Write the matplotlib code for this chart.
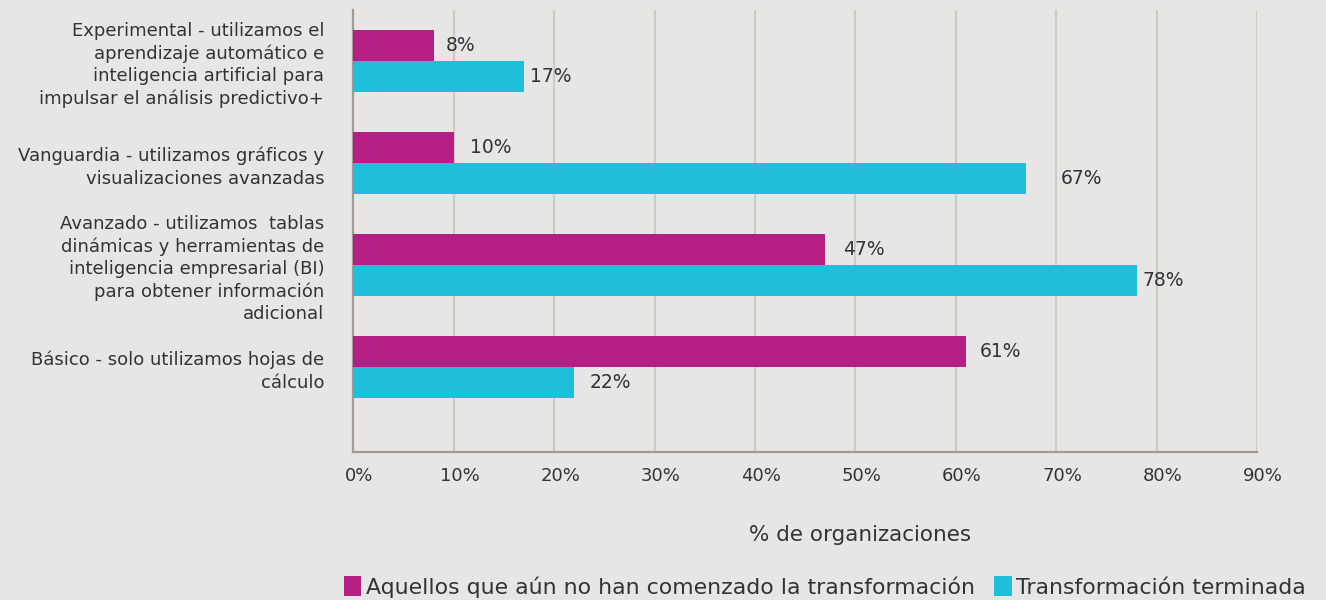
import matplotlib.pyplot as plt
import matplotlib.transforms as mtransforms
import numpy as np
from matplotlib.patches import Patch

plt.rcParams['font.family'] = ['DejaVu Sans']

# datos
categorias = [
    'Experimental - utilizamos el\naprendizaje automático e\ninteligencia artificial para\nimpulsar el análisis predictivo+',
    'Vanguardia - utilizamos gráficos y\nvisualizaciones avanzadas',
    'Avanzado - utilizamos  tablas\ndinámicas y herramientas de\ninteligencia empresarial (BI)\npara obtener información\nadicional',
    'Básico - solo utilizamos hojas de\ncálculo',
]
no_comenzado = [8, 10, 47, 61]
terminada = [17, 67, 78, 22]
serie_nombres = ['Aquellos que aún no han comenzado la transformación',
                 'Transformación terminada']
ticks_x = [0, 10, 20, 30, 40, 50, 60, 70, 80, 90]

# estilo
fondo = '#e8e6e4'
magenta = '#b51f84'
cian = '#21bedc'
texto = '#333333'

fig = plt.figure(figsize=(13.26, 6), dpi=100, facecolor=fondo)
ax = fig.add_axes([0.2665, 0.247, 0.6815, 0.736])
ax.set_facecolor(fondo)

y = np.arange(len(categorias))
alto = 0.305
ax.barh(y - alto / 2, no_comenzado, height=alto, color=magenta, zorder=3)
ax.barh(y + alto / 2, terminada, height=alto, color=cian, zorder=3)

# etiquetas de valor (desplazamientos en puntos, como en el original)
desp_nc = [9, 12, 13, 10]
desp_t = [4, 25, 4, 11]
for i in range(len(categorias)):
    ax.annotate(f'{no_comenzado[i]}%', (no_comenzado[i], y[i] - alto / 2),
                xytext=(desp_nc[i], 0), textcoords='offset points',
                va='center', ha='left', fontsize=13.5, color=texto)
    ax.annotate(f'{terminada[i]}%', (terminada[i], y[i] + alto / 2),
                xytext=(desp_t[i], 0), textcoords='offset points',
                va='center', ha='left', fontsize=13.5, color=texto)

ax.set_xlim(0, 90)
ax.set_ylim(3.83, -0.5)
ax.set_xticks(ticks_x)
ax.set_xticklabels([f'{t}%' for t in ticks_x], fontsize=13, color=texto)
ax.set_yticks(y)
ax.set_yticklabels(categorias, fontsize=13, color=texto, linespacing=1.3)
ax.tick_params(axis='both', length=0)
ax.tick_params(axis='x', pad=11)
ax.tick_params(axis='y', pad=21)
for lbl in ax.get_yticklabels():
    lbl.set_multialignment('right')
desplazar = mtransforms.ScaledTranslation(6 / 100, 0, fig.dpi_scale_trans)
for lbl in ax.get_xticklabels():
    lbl.set_transform(lbl.get_transform() + desplazar)

ax.grid(axis='x', color='#cdc9c4', linewidth=1.5, zorder=0)
for s in ['top', 'right']:
    ax.spines[s].set_visible(False)
for s in ['left', 'bottom']:
    ax.spines[s].set_color('#a09b96')
    ax.spines[s].set_linewidth(1.6)

ax.set_xlabel('% de organizaciones', fontsize=15.5, color=texto)
ax.xaxis.set_label_coords(0.561, (452 - 535) / 442, transform=ax.transAxes)
ax.xaxis.label.set_va('center')

handles = [Patch(facecolor=magenta), Patch(facecolor=cian)]
fig.legend(handles, serie_nombres, loc='center', bbox_to_anchor=(0.622, 0.022),
           ncol=2, frameon=False, fontsize=15.8, handlelength=0.8, handleheight=1.0,
           handletextpad=0.2, columnspacing=0.9, labelcolor=texto,
           borderpad=0, borderaxespad=0)

fig.savefig('out.png', dpi=100, facecolor=fondo)
